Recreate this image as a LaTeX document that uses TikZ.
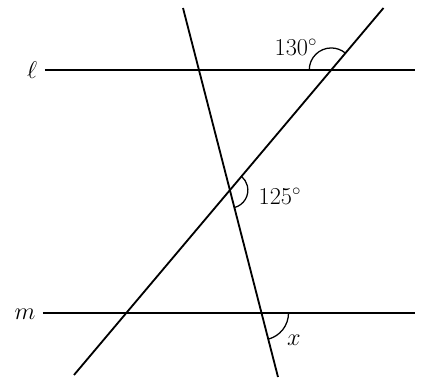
\documentclass[tikz,border=0pt]{standalone}
\usepackage{amsmath}
\tikzset{
  line/.style={line width=1.3pt},
  angarc/.style={line width=0.9pt},
  lbl/.style={font=\fontsize{17}{20}\selectfont, inner sep=1pt}
}
\begin{document}
\begin{tikzpicture}
            \useasboundingbox (0,0) rectangle (10.55,9.45);
            % Define end points of the lines
            \coordinate (L1) at (1.125, 7.7); \coordinate (L2) at (10.375, 7.7);
            \coordinate (M1) at (1.075, 1.625); \coordinate (M2) at (10.375, 1.625);
            \coordinate (D1) at (1.85, 0.075); \coordinate (D2) at (9.5875, 9.25);
            \coordinate (S1) at (4.575, 9.25); \coordinate (S2) at (6.95, 0.025);

            % Draw lines
            \draw[line] (L1) -- (L2); \draw[line] (M1) -- (M2);
            \draw[line] (D1) -- (D2); \draw[line] (S1) -- (S2);

            % Intersections
            \coordinate (P) at (intersection of L1--L2 and D1--D2);
            \coordinate (Q) at (intersection of D1--D2 and S1--S2);
            \coordinate (R) at (intersection of M1--M2 and S1--S2);

            % Angle marks
            \draw[angarc] (P) ++(180:0.55) arc[start angle=180, end angle=49.9, radius=0.55];
            \draw[angarc] (Q) ++(-75.6:0.45) arc[start angle=-75.6, end angle=49.9, radius=0.45];
            \draw[angarc] (R) ++(0:0.675) arc[start angle=0, end angle=-75.6, radius=0.675];

            % Labels
            \node[lbl] (l) at (0.8, 7.7) {$\ell$};
            \node[lbl] (m) at (0.625, 1.6) {$m$};
            \node[lbl] (a) at (7.4, 8.275) {$130^\circ$};
            \node[lbl] (b) at (7.0, 4.55) {$125^\circ$};
            \node[lbl] (x) at (7.35, 0.95) {$x$};
        \end{tikzpicture}
\end{document}
